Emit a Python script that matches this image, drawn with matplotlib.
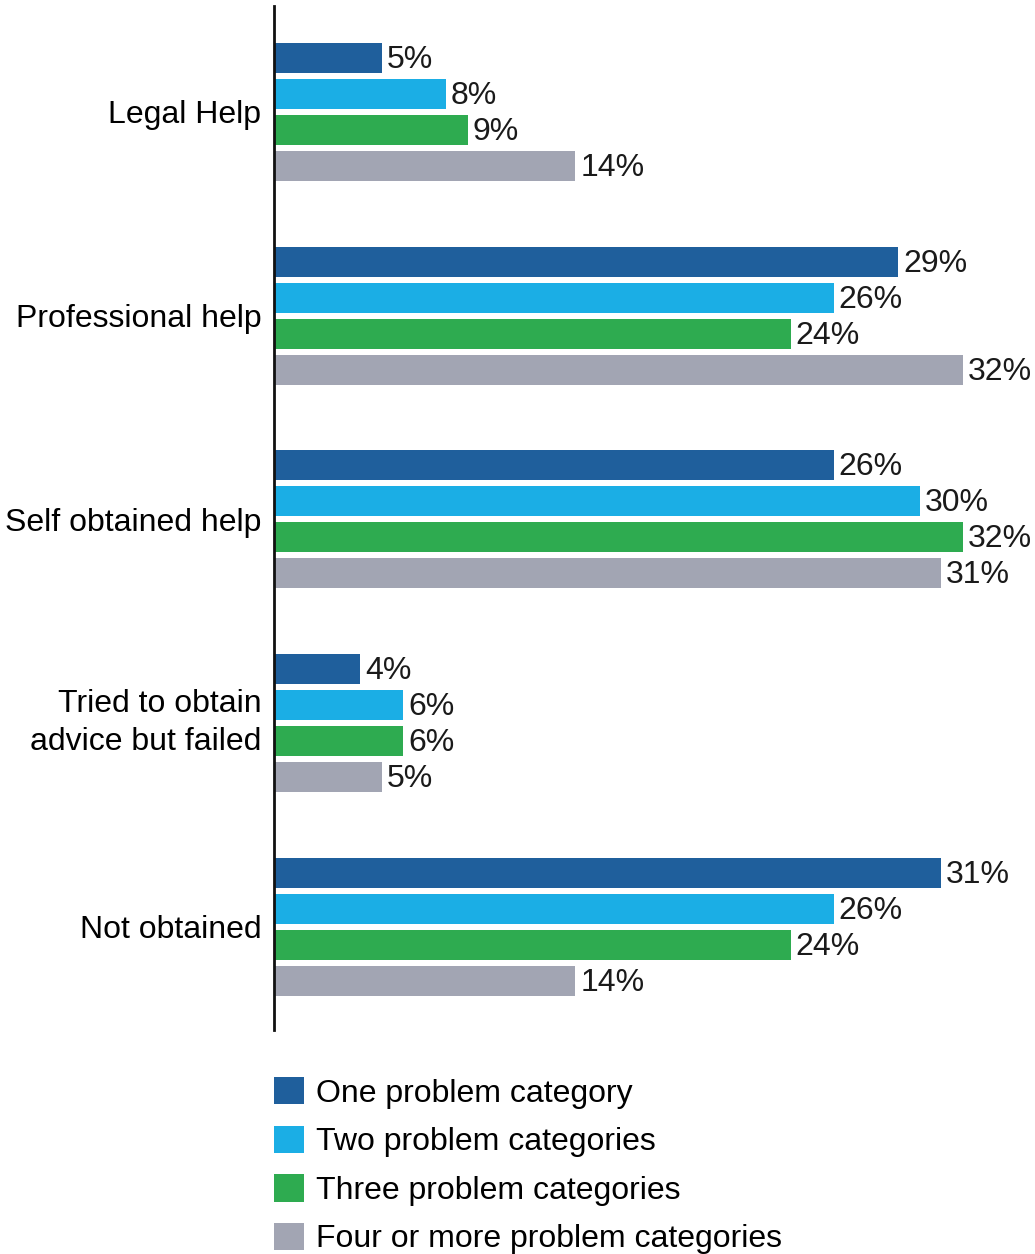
import matplotlib
matplotlib.use("Agg")
import matplotlib.pyplot as plt
import matplotlib.transforms as mtransforms
import numpy as np

plt.rcParams['font.family'] = ['Liberation Sans', 'DejaVu Sans']

categories = ["Legal Help", "Professional help", "Self obtained help",
              "Tried to obtain\nadvice but failed", "Not obtained"]
series = ["One problem category", "Two problem categories",
          "Three problem categories", "Four or more problem categories"]
one_cat = [5, 29, 26, 4, 31]
two_cat = [8, 26, 30, 6, 26]
three_cat = [9, 24, 32, 6, 24]
four_cat = [14, 32, 31, 5, 14]
values = [one_cat, two_cat, three_cat, four_cat]
colors = ["#1F5F9C", "#1BAEE5", "#2EAB50", "#A2A5B3"]

W, H = 1035, 1254
fig = plt.figure(figsize=(W / 100, H / 100), dpi=100)
ax = fig.add_axes([274 / W, 1 - 1030 / H, (1035 - 274) / W, (1030 - 6) / H])

bar_h = 30 / 203.75
step = 36 / 203.75
y0 = np.arange(len(categories))
offsets = (np.arange(4) - 1.5) * step

fs = 23
for s, (vals, col) in enumerate(zip(values, colors)):
    ys = y0 + offsets[s]
    bars = ax.barh(ys, vals, height=bar_h, color=col, label=series[s])
    for b, v in zip(bars, vals):
        ax.text(b.get_width() + 0.22, b.get_y() + b.get_height() / 2 + 0.01,
                f"{v}%", va="center", ha="left", fontsize=fs, color="#1a1a1a")

ax.set_xlim(0, (1035 - 274) / 21.53)
ax.set_ylim(4.506, -0.52)
ax.set_yticks(y0)
ax.set_yticklabels(categories, fontsize=fs, linespacing=1.38)
ax.tick_params(axis="y", length=0, pad=9)
ax.set_xticks([])
# nudge the two-line category label upward a little
for lbl in ax.get_yticklabels():
    if "\n" in lbl.get_text():
        lbl.set_transform(lbl.get_transform() +
                          mtransforms.ScaledTranslation(0, 8 / 100, fig.dpi_scale_trans))
for side in ["top", "right", "bottom"]:
    ax.spines[side].set_visible(False)
ax.spines["left"].set_linewidth(2)
ax.spines["left"].set_color("#111111")

handles, labels = ax.get_legend_handles_labels()
fig.legend(handles, labels, loc="upper left",
           bbox_to_anchor=(274 / W, 1 - 1077 / H), frameon=False,
           fontsize=fs, handlelength=0.94, handleheight=0.94,
           handletextpad=0.36, labelspacing=0.53, borderpad=0,
           borderaxespad=0)

fig.savefig("out.png", dpi=100, facecolor="white")
